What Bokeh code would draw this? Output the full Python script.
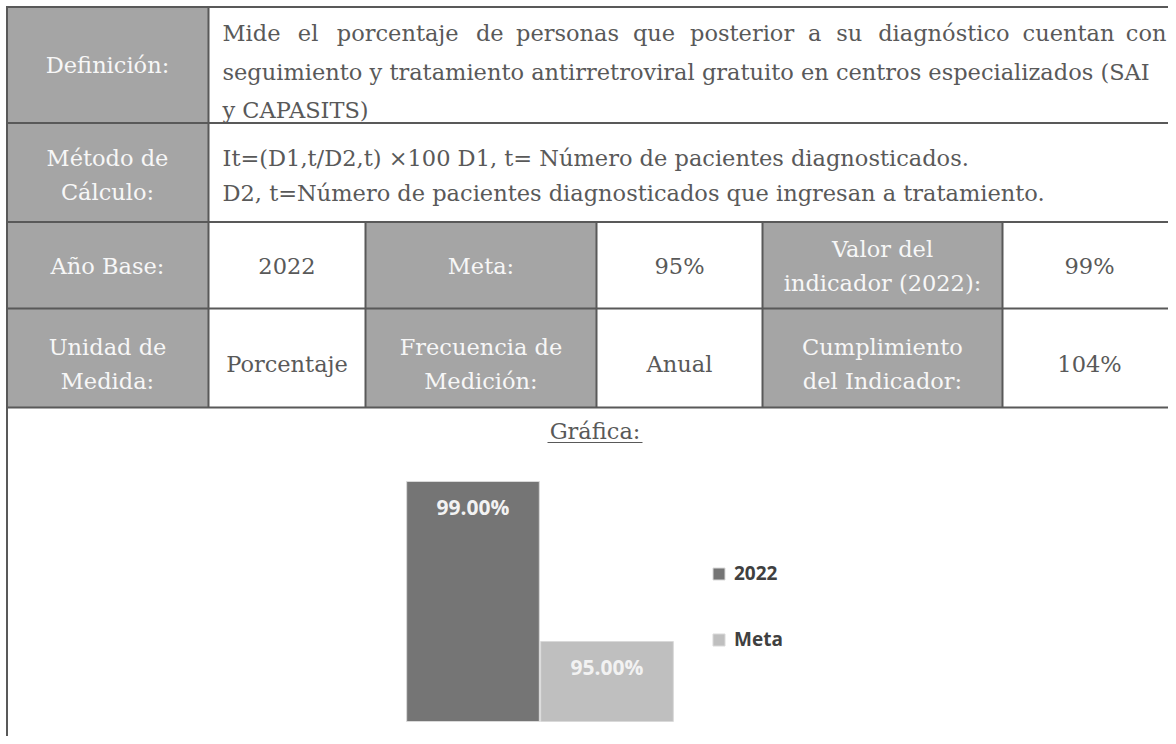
from bokeh.plotting import figure
from bokeh.models import Range1d, ColumnDataSource, Legend, LegendItem
from bokeh.core.properties import value
from bokeh.embed import file_html
from bokeh.resources import INLINE

# ---------------- data ----------------
categories = ["2022", "Meta"]
values = [99.0, 95.0]
bar_labels = ["99.00%", "95.00%"]
axis_min = 93.0

def_words = ["Mide", "el", "porcentaje", "de", "personas", "que", "posterior",
             "a", "su", "diagnóstico", "cuentan", "con"]
def_line2 = "seguimiento y tratamiento antirretroviral gratuito en centros especializados (SAI"
def_line3 = "y CAPASITS)"
metodo_lines = ["It=(D1,t/D2,t) ×100 D1, t= Número de pacientes diagnosticados.",
                "D2, t=Número de pacientes diagnosticados que ingresan a tratamiento."]
row3 = ["Año Base:", "2022", "Meta:", "95%", "Valor del\nindicador (2022):", "99%"]
row4 = ["Unidad de\nMedida:", "Porcentaje", "Frecuencia de\nMedición:", "Anual",
        "Cumplimiento\ndel Indicador:", "104%"]
grafica_title = "Gráfica:"

# ---------------- styles / layout ----------------
W, H = 1168, 736
HEAD_FILL = "#a5a5a5"
HEAD_TXT = "#f7f7f7"
BODY_TXT = "#595959"
BORDER = "#595959"
SERIF = value("DejaVu Serif")
SANS = value("Open Sans")
FS = "22.5px"
bar_colors = ["#757575", "#bfbfbf"]

# picture-pixel coordinate system
p = figure(width=W, height=H, output_backend="svg", toolbar_location=None,
           x_range=Range1d(0, W), y_range=Range1d(H, 0),
           x_axis_location=None, y_axis_location=None, min_border=0,
           outline_line_color=None, background_fill_color="white",
           border_fill_color="white")
p.grid.visible = False

# table geometry
rows_y = [6.5, 122.5, 221.5, 308, 407]
col_main = [6.5, 208]
cols_small = [6.5, 208, 365, 596, 762, 1002, 1180]

# header cells fill
qx0, qx1, qy0, qy1 = [], [], [], []
for i in range(4):
    qx0.append(col_main[0]); qx1.append(col_main[1]); qy0.append(rows_y[i]); qy1.append(rows_y[i + 1])
for rr in (2, 3):
    for c in (2, 4):
        qx0.append(cols_small[c]); qx1.append(cols_small[c + 1]); qy0.append(rows_y[rr]); qy1.append(rows_y[rr + 1])
p.quad(left=qx0, right=qx1, top=qy0, bottom=qy1, fill_color=HEAD_FILL, line_color=None)

# borders
sx0, sy0, sx1, sy1 = [], [], [], []
for y in rows_y:
    sx0.append(5.5); sx1.append(1180); sy0.append(y); sy1.append(y)
sx0 += [6.5, 208]; sx1 += [6.5, 208]; sy0 += [5.5, 5.5]; sy1 += [750, 407]
for c in cols_small[2:6]:
    sx0.append(c); sx1.append(c); sy0.append(rows_y[2]); sy1.append(rows_y[4])
p.segment(x0=sx0, y0=sy0, x1=sx1, y1=sy1, line_color=BORDER, line_width=2)

def txt(x, y, t, color=BODY_TXT, align="center", font=SERIF, size=FS, style="normal"):
    p.text(x=[x], y=[y], text=[t], text_font=font, text_font_size=size,
           text_align=align, text_baseline="middle", text_color=color,
           text_font_style=style)

# header labels col 0
txt(107, 64, "Definición:", HEAD_TXT)
txt(107, 157, "Método de", HEAD_TXT)
txt(107, 191, "Cálculo:", HEAD_TXT)

# definition text (justified first line, equal gaps)
word_centers = [None, 307.6, 397.2, 489.3, 567, 653.5, 741.6, 814.2, 848.8, 943.4, 1068, None]
for w, cx in zip(def_words, word_centers):
    if w == def_words[0]:
        txt(222, 32, w, align="left")
    elif w == def_words[-1]:
        txt(1166, 32, w, align="right")
    else:
        txt(cx, 32, w)
txt(222, 71, def_line2, align="left")
txt(222, 109, def_line3, align="left")

# metodo
txt(222, 157, metodo_lines[0], align="left")
txt(222, 192, metodo_lines[1], align="left")

# rows 3 and 4
centers_x = [107, 286.5, 480.5, 679, 882, 1089]
for rr, row, yc in ((2, row3, 265), (3, row4, 363)):
    for c, t in enumerate(row):
        color = HEAD_TXT if c in (0, 2, 4) else BODY_TXT
        parts = t.split("\n")
        if len(parts) == 1:
            txt(centers_x[c], yc, parts[0], color)
        else:
            txt(centers_x[c], yc - 17, parts[0], color)
            txt(centers_x[c], yc + 17, parts[1], color)

# Grafica title with underline
txt(594.5, 430, grafica_title)
p.segment(x0=[547], y0=[442], x1=[642], y1=[442], line_color=BODY_TXT, line_width=1)

# ---------------- bar chart via extra ranges ----------------
BASE_PX = 721.0      # picture y of axis_min
PX_PER_UNIT = 40.0
X0_PX = 472.5        # picture x center of first bar
PX_PER_CAT = 134.0
p.extra_y_ranges = {"bars": Range1d(axis_min - (H - BASE_PX) / PX_PER_UNIT,
                                    axis_min + BASE_PX / PX_PER_UNIT)}
p.extra_x_ranges = {"bars": Range1d(-X0_PX / PX_PER_CAT, (W - X0_PX) / PX_PER_CAT)}

LABEL_DROP = 25.0 / PX_PER_UNIT
src = ColumnDataSource(dict(
    x=list(range(len(categories))),
    top=values,
    bottom=[axis_min] * len(values),
    color=bar_colors,
    label=bar_labels,
    ly=[v - LABEL_DROP for v in values],
))
r = p.vbar(x="x", top="top", bottom="bottom", width=0.99, fill_color="color",
           line_color="#d9d9d9", line_width=1, source=src,
           x_range_name="bars", y_range_name="bars")
p.text(x="x", y="ly", text="label", source=src, x_range_name="bars", y_range_name="bars",
       text_font=SANS, text_font_style="bold", text_font_size="21px",
       text_color="#f2f2f2", text_align="center", text_baseline="middle")

legend = Legend(items=[LegendItem(label=categories[i], renderers=[r], index=i)
                       for i in range(len(categories))],
                location=(711, 84), orientation="vertical",
                glyph_width=15, glyph_height=15, label_standoff=8,
                label_text_font="Open Sans", label_text_font_style="bold",
                label_text_font_size="19px", label_text_color="#404040",
                label_height=20, spacing=40, padding=0, margin=0,
                border_line_color=None, background_fill_alpha=0)
p.add_layout(legend, "center")

open("out.html", "w").write(file_html(p, INLINE))
